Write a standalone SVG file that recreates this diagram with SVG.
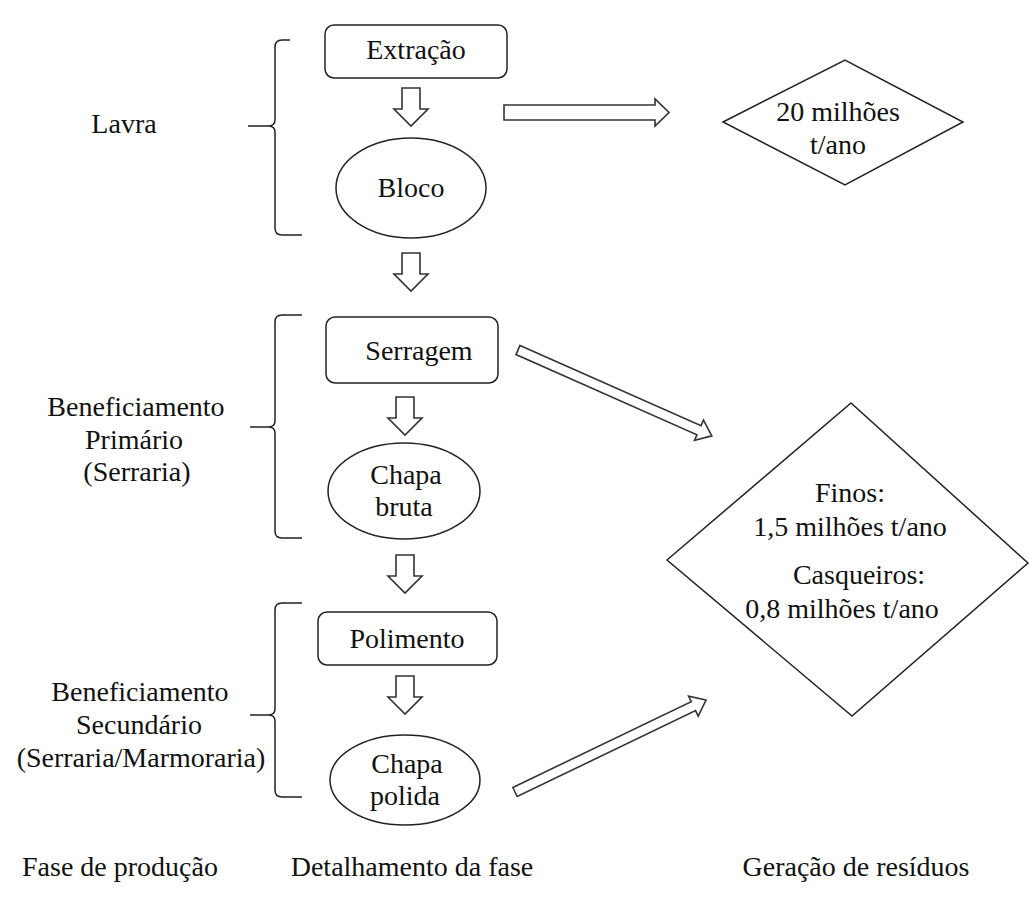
<svg xmlns="http://www.w3.org/2000/svg" xmlns:xlink="http://www.w3.org/1999/xlink" width="1030" height="907" viewBox="0 0 1030 907">
<style>
.shape{fill:#fff;stroke:#222;stroke-width:1.5}
.brace{fill:none;stroke:#222;stroke-width:1.5}
.arr{fill:#fff;stroke:#333;stroke-width:1.6;stroke-linejoin:miter}
text{font-family:"Liberation Serif","Times New Roman",serif;font-size:28px;fill:#111;text-anchor:middle}
</style>
<defs>
<path id="downArrow" d="M-9,0 H9 V21 H17 L0,38 L-17,21 H-9 Z"/>
<path id="longArrow" d="M0,-5 H198 V-11 L212,0 L198,11 V5 H0 Z"/>
</defs>
<rect width="1030" height="907" fill="#fff"/>

<g id="lavra-phase">
<path class="brace" d="M290,40 H282 Q275,40 275,47 V120 Q275,126 268,126 H248 M268,126 Q275,126 275,132 V228 Q275,235 282,235 H302"/>
<text x="124" y="133">Lavra</text>
</g>
<g id="primario-phase">
<path class="brace" d="M302,315 H282 Q275,315 275,322 V421 Q275,427 268,427 H250 M268,427 Q275,427 275,433 V531 Q275,538 282,538 H302"/>
<text x="136" y="416">Beneficiamento</text>
<text x="134" y="449">Primário</text>
<text x="137" y="481">(Serraria)</text>
</g>
<g id="secundario-phase">
<path class="brace" d="M302,603 H282 Q275,603 275,610 V709 Q275,715 268,715 H250 M268,715 Q275,715 275,721 V790 Q275,797 282,797 H302"/>
<text x="140" y="701">Beneficiamento</text>
<text x="139" y="734">Secundário</text>
<text x="141" y="767">(Serraria/Marmoraria)</text>
</g>

<g id="extracao">
<rect class="shape" x="325" y="25" width="182" height="53" rx="9"/>
<text x="416" y="59">Extração</text>
</g>
<g id="bloco">
<ellipse class="shape" cx="411" cy="188" rx="75" ry="50"/>
<text x="411" y="197">Bloco</text>
</g>
<g id="serragem">
<rect class="shape" x="326" y="317" width="172" height="66" rx="9"/>
<text x="419" y="360">Serragem</text>
</g>
<g id="chapa-bruta">
<ellipse class="shape" cx="404" cy="491" rx="76" ry="48"/>
<text x="406" y="484">Chapa</text>
<text x="404" y="516">bruta</text>
</g>
<g id="polimento">
<rect class="shape" x="318" y="612" width="179" height="53" rx="9"/>
<text x="407" y="648">Polimento</text>
</g>
<g id="chapa-polida">
<ellipse class="shape" cx="405" cy="780" rx="75" ry="45"/>
<text x="407" y="773">Chapa</text>
<text x="405" y="805">polida</text>
</g>

<g id="residuo-lavra">
<polygon class="shape" points="723,122 845,60 963,122 845,185"/>
<text x="838" y="121">20 milhões</text>
<text x="838" y="154">t/ano</text>
</g>
<g id="residuo-beneficiamento">
<polygon class="shape" points="667,560 851,403 1028,563 852,716"/>
<text x="850" y="502">Finos:</text>
<text x="850" y="536">1,5 milhões  t/ano</text>
<text x="859" y="584">Casqueiros:</text>
<text x="842" y="618">0,8 milhões  t/ano</text>
</g>

<g id="connectors">
<use xlink:href="#downArrow" class="arr" transform="translate(411,88)"/>
<use xlink:href="#downArrow" class="arr" transform="translate(411,253)"/>
<use xlink:href="#downArrow" class="arr" transform="translate(405,397)"/>
<use xlink:href="#downArrow" class="arr" transform="translate(405,555)"/>
<use xlink:href="#downArrow" class="arr" transform="translate(405,676)"/>
<polygon class="arr" points="504,105 655,105 655,99 669,112.5 655,126 655,120 504,120"/>
<use xlink:href="#longArrow" class="arr" transform="translate(518,350) rotate(23.9)"/>
<use xlink:href="#longArrow" class="arr" transform="translate(515,792) rotate(-25.7)"/>
</g>

<g id="labels">
<text x="120" y="876">Fase de produção</text>
<text x="412" y="876">Detalhamento da fase</text>
<text x="856" y="876">Geração de resíduos</text>
</g>
</svg>
